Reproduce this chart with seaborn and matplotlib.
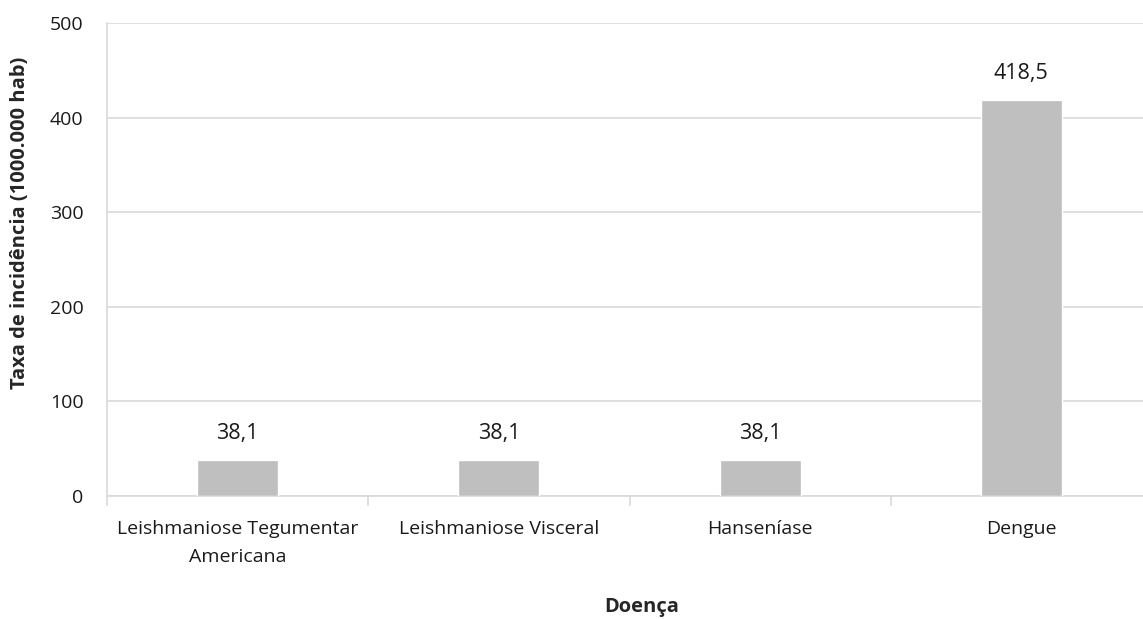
import pandas as pd
import matplotlib.pyplot as plt
import seaborn as sns

# data
doencas = ['Leishmaniose Tegumentar\nAmericana', 'Leishmaniose Visceral', 'Hanseníase', 'Dengue']
taxas = [38.1, 38.1, 38.1, 418.5]

df = pd.DataFrame({'Doença': doencas, 'Taxa': taxas})

sns.set_style('white')
plt.rcParams['font.family'] = ['Open Sans', 'DejaVu Sans']

fig = plt.figure(figsize=(11.43, 6.19), dpi=100)
ax = fig.add_axes([107 / 1143, 1 - 496 / 619, 1045 / 1143, 473 / 619])

sns.barplot(data=df, x='Doença', y='Taxa', color='#bfbfbf', width=0.31,
            saturation=1, ax=ax, zorder=3)

ax.set_ylim(0, 500)
ax.set_xlim(-0.5, 3.5)
ax.set_yticks(range(0, 501, 100))
ax.grid(axis='y', color='#d9d9d9', linewidth=1.2, zorder=0)

for i, v in enumerate(taxas):
    ax.text(i, v + 17, f'{v:.1f}'.replace('.', ','), ha='center', va='bottom',
            fontsize=15.5, color='#1a1a1a')

for s in ['top', 'right']:
    ax.spines[s].set_visible(False)
for s in ['left', 'bottom']:
    ax.spines[s].set_color('#d9d9d9')
    ax.spines[s].set_linewidth(1.2)

# tick marks on category boundaries only
ax.tick_params(axis='x', which='major', length=0, labelsize=14, pad=17, colors='#1a1a1a')
ax.set_xticks([-0.5, 0.5, 1.5, 2.5], minor=True)
ax.tick_params(axis='x', which='minor', length=7, width=1.2, color='#d9d9d9', bottom=True)
ax.tick_params(axis='y', length=0, labelsize=14, pad=17, colors='#1a1a1a')
for lbl in ax.get_xticklabels():
    lbl.set_linespacing(1.75)

ax.set_xlabel('Doença', fontsize=14.5, fontweight='bold')
ax.set_ylabel('Taxa de incidência (1000.000 hab)', fontsize=14.5, fontweight='bold')
ax.xaxis.set_label_coords((642 - 107) / 1045, -(607 - 496) / 473)
ax.yaxis.set_label_coords(-(107 - 20) / 1045, (496 - 223) / 473)
ax.xaxis.label.set_va('center')
ax.yaxis.label.set_va('center')

fig.savefig('out.png', dpi=100)
